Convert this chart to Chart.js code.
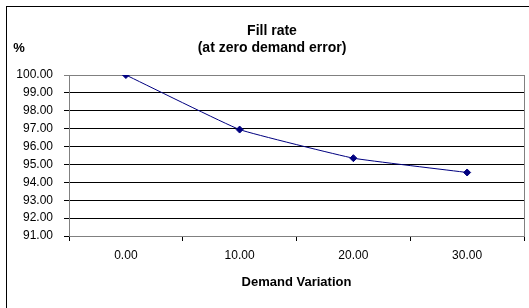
<!doctype html>
<html lang="en">
  <head>
    <meta charset="utf-8">
    <title>Fill rate</title>
    <script src="https://cdn.jsdelivr.net/npm/chart.js"></script>
    <style>
      html, body { margin: 0; padding: 0; background: #fff; }
      #wrap { width: 529px; height: 308px; position: relative; }
    </style>
  </head>
  <body>
    <div id="wrap"><canvas id="fillChart"></canvas></div>
    <script>
      // data
      let demandVariation = ['0.00', '10.00', '20.00', '30.00'];
      let fillRate = [100.00, 96.95, 95.35, 94.55];
      let titleLines = ['Fill rate', '(at zero demand error)'];
      let yLabel = '%';
      let xLabel = 'Demand Variation';

      let navy = '#000080';
      let fontFam = 'Arial, "Liberation Sans", sans-serif';

      // frame, plot border, heading and the % label
      let decor = {
        id: 'decor',
        beforeDraw(chart) {
          let c = chart.ctx;
          c.save();
          c.fillStyle = '#fff';
          c.fillRect(0, 0, chart.width, chart.height);
          c.strokeStyle = '#000';
          c.lineWidth = 1;
          c.strokeRect(6.5, 6.5, chart.width + 10, chart.height + 10);
          c.restore();
        },
        afterDraw(chart) {
          let c = chart.ctx, a = chart.chartArea;
          c.save();
          c.strokeStyle = '#808080';
          c.lineWidth = 1;
          c.beginPath();
          c.moveTo(Math.round(a.right) + 0.5, a.top);
          c.lineTo(Math.round(a.right) + 0.5, a.bottom);
          c.stroke();
          c.fillStyle = '#000';
          c.font = 'bold 14px ' + fontFam;
          c.textAlign = 'center';
          c.textBaseline = 'alphabetic';
          c.fillText(titleLines[0], 272, 35);
          c.fillText(titleLines[1], 272, 52);
          c.font = 'bold 13px ' + fontFam;
          c.fillText(yLabel, 19, 52);
          c.restore();
        }
      };

      let ctx = document.getElementById('fillChart').getContext('2d');
      let myChart = new Chart(ctx, {
        type: 'line',
        data: {
          labels: demandVariation,
          datasets: [{
            data: fillRate,
            borderColor: navy,
            borderWidth: 1,
            backgroundColor: navy,
            pointStyle: 'rectRot',
            pointRadius: 3.5,
            pointBackgroundColor: navy,
            pointBorderColor: navy,
            tension: 0.1,
            fill: false
          }]
        },
        options: {
          responsive: true,
          maintainAspectRatio: false,
          animation: false,
          layout: { padding: { top: 75, right: 4, left: 0, bottom: 0 } },
          scales: {
            x: {
              offset: true,
              grid: { offset: true, drawOnChartArea: false, tickLength: 5, color: '#000' },
              border: { color: '#808080', width: 1 },
              ticks: { color: '#000', padding: 7, font: { family: fontFam, size: 12 } },
              title: {
                display: true, text: xLabel, color: '#000',
                font: { family: fontFam, size: 13, weight: 'bold' },
                padding: { top: 0, bottom: 18 }
              },
              afterFit(scale) { scale.height = 72; }
            },
            y: {
              min: 91, max: 100,
              grid: {
                tickLength: 5,
                color: function(c) { return c.tick && c.tick.value === 100 ? '#808080' : '#000'; }
              },
              border: { color: '#808080', width: 1 },
              ticks: {
                stepSize: 1, color: '#000', padding: 11,
                font: { family: fontFam, size: 12 },
                callback: function(v) { return v.toFixed(2); }
              },
              afterFit(scale) { scale.width = 69; }
            }
          },
          plugins: {
            legend: { display: false },
            tooltip: { enabled: false }
          }
        },
        plugins: [decor]
      });
    </script>
  </body>
</html>
